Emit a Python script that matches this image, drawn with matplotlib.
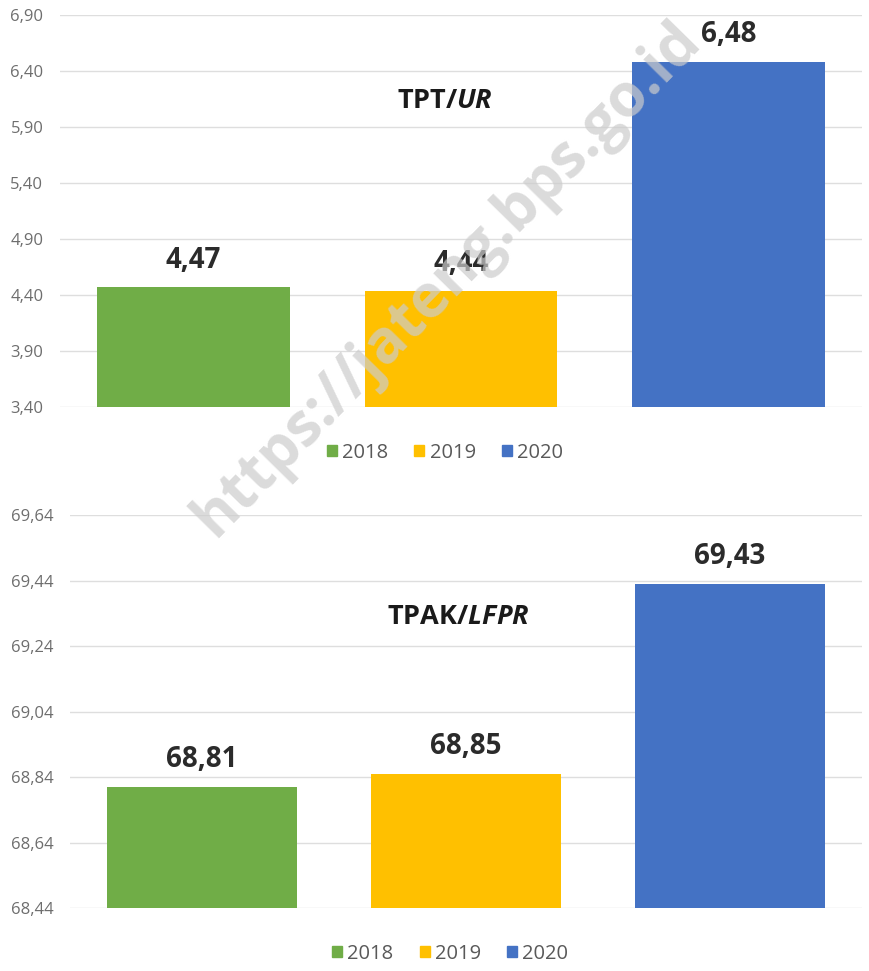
import matplotlib
matplotlib.use('Agg')
import matplotlib.pyplot as plt
import numpy as np
from matplotlib.ticker import FuncFormatter

plt.rcParams['font.family'] = ['Open Sans', 'DejaVu Sans']

# data
years = ['2018', '2019', '2020']
colors = ['#70AD47', '#FFC000', '#4472C4']
tpt_values = [4.47, 4.44, 6.48]
tpak_values = [68.81, 68.85, 69.43]
tpt_ticks = [3.40, 3.90, 4.40, 4.90, 5.40, 5.90, 6.40, 6.90]
tpak_ticks = [68.44, 68.64, 68.84, 69.04, 69.24, 69.44, 69.64]


def comma(v, pos=None):
    return f"{v:.2f}".replace('.', ',')


def draw_panel(ax, values, ticks, title_main, title_it, title_xy):
    x = np.arange(len(years))
    bars = ax.bar(x, [v - ticks[0] for v in values], bottom=ticks[0],
                  width=0.72, color=colors, zorder=3)
    for b, v in zip(bars, values):
        ax.annotate(comma(v), (b.get_x() + b.get_width() / 2, v),
                    xytext=(0, 19.5), textcoords='offset points',
                    ha='center', va='center', fontsize=20, fontweight='bold',
                    color='#2b2b2b')
    ax.set_xlim(-0.5, len(years) - 0.5)
    ax.set_ylim(ticks[0], ticks[-1])
    ax.set_yticks(ticks)
    ax.yaxis.set_major_formatter(FuncFormatter(comma))
    ax.tick_params(axis='y', length=0, pad=12, labelsize=12, labelcolor='#6e6e6e')
    ax.set_xticks([])
    for s in ax.spines.values():
        s.set_visible(False)
    ax.grid(axis='y', color='#dedede', linewidth=1, zorder=0)
    ax.text(title_xy[0], title_xy[1], rf"{title_main}/$\mathbfit{{{title_it}}}$",
            transform=ax.transAxes, ha='center', va='center',
            fontsize=19.5, fontweight='bold', color='#1a1a1a')
    handles = [plt.Rectangle((0, 0), 1, 1, color=c) for c in colors]
    ax.legend(handles, years, loc='upper center', bbox_to_anchor=(0.48, -0.045),
              ncol=3, frameon=False, fontsize=14.5, handlelength=0.5,
              handleheight=0.5, handletextpad=0.25, columnspacing=1.3,
              labelcolor='#595959')


fig = plt.figure(figsize=(8.7, 9.71), dpi=100)
ax1 = fig.add_axes([60 / 870, 1 - 407 / 971, 802 / 870, 392 / 971])
ax2 = fig.add_axes([70 / 870, 1 - 908 / 971, 792 / 870, 393 / 971])

plt.rcParams['mathtext.fontset'] = 'custom'
plt.rcParams['mathtext.bfit'] = 'Open Sans:italic:bold'

draw_panel(ax1, tpt_values, tpt_ticks, 'TPT', 'UR', (0.48, 0.78))
draw_panel(ax2, tpak_values, tpak_ticks, 'TPAK', 'LFPR', (0.49, 0.74))

# watermark
fig.text(0.514, 0.712, 'https://jateng.bps.go.id', rotation=45.5,
         ha='center', va='center', fontsize=43, fontweight='bold',
         color='#cccccc', alpha=0.7, zorder=10)

fig.savefig('out.png', dpi=100)
